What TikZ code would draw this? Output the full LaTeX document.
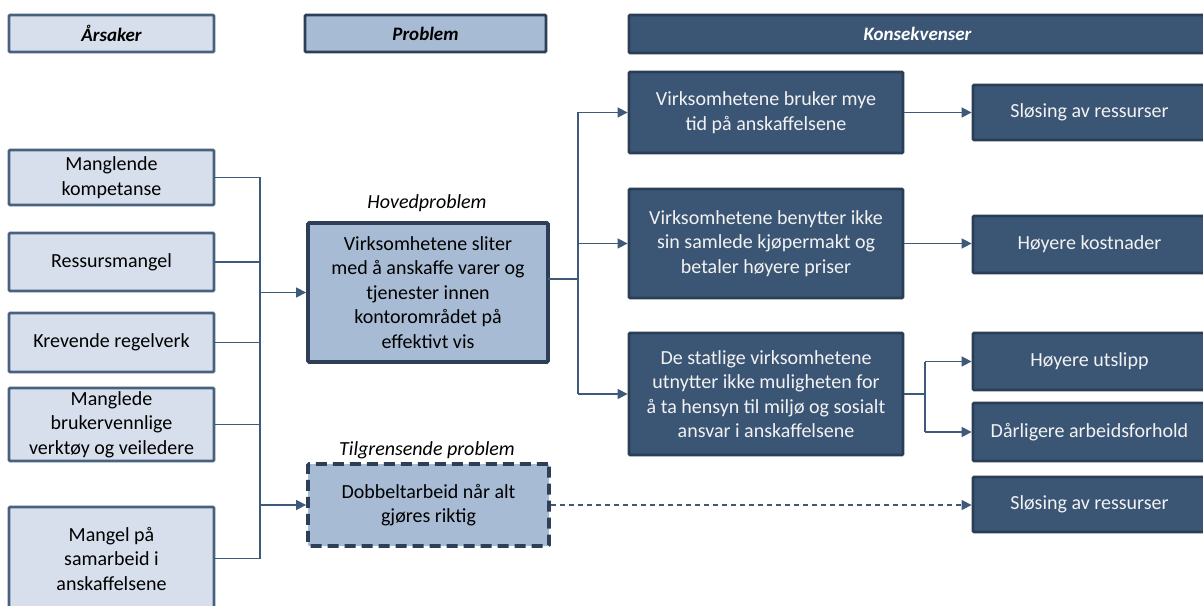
\documentclass[tikz,border=0pt]{standalone}
\usepackage{fontspec}
\setmainfont{Carlito}
\usetikzlibrary{arrows.meta}
\definecolor{lightfill}{HTML}{D6DFEB}
\definecolor{lightborder}{HTML}{47617F}
\definecolor{midfill}{HTML}{A7BCD4}
\definecolor{midborder}{HTML}{2C3F57}
\definecolor{darkfill}{HTML}{3B5675}
\definecolor{darkborder}{HTML}{2A3E56}
\definecolor{linecol}{HTML}{3E5A7B}
\definecolor{lighttext}{HTML}{F2F2F2}
\tikzset{
  x=1bp, y=-1bp,
  base/.style={rectangle, rounded corners=1.2bp, align=center, inner sep=2bp,
    font=\fontsize{20bp}{24.5bp}\selectfont},
  causebox/.style={base, fill=lightfill, draw=lightborder, line width=2.8bp},
  probbox/.style={base, fill=midfill, draw=midborder, line width=3.8bp},
  dashbox/.style={base, fill=midfill, draw=midborder, line width=3.8bp, dash pattern=on 11bp off 6bp},
  consbox/.style={base, fill=darkfill, draw=darkborder, line width=2.8bp, text=lighttext},
  hdrA/.style={causebox, font=\fontsize{19bp}{23bp}\selectfont\bfseries\itshape},
  hdrP/.style={probbox, line width=2.8bp, font=\fontsize{19bp}{23bp}\selectfont\bfseries\itshape},
  hdrK/.style={consbox, text=white, font=\fontsize{19bp}{23bp}\selectfont\bfseries\itshape},
  lbl/.style={font=\fontsize{20bp}{24.5bp}\selectfont\itshape, inner sep=0pt},
  conn/.style={draw=linecol, line width=1.5bp},
  arr/.style={conn, -{Triangle[length=10bp,width=10bp]}},
  darr/.style={arr, dash pattern=on 5bp off 4bp},
}
\begin{document}
\begin{tikzpicture}
\useasboundingbox (0,0) rectangle (1203,606);
% headers
\node[hdrA, minimum width=205bp, minimum height=37bp] (hA) at (111.5,33.5) {Årsaker};
\node[hdrP, minimum width=241bp, minimum height=37bp] (hP) at (425.5,33.5) {Problem};
\node[hdrK, minimum width=577bp, minimum height=38bp] (hK) at (917.5,34) {Konsekvenser};
% causes
\node[causebox, minimum width=205bp, minimum height=55bp] (c1) at (111.5,177.5) {Manglende\\kompetanse};
\node[causebox, minimum width=205bp, minimum height=58bp] (c2) at (111.5,262) {Ressursmangel};
\node[causebox, minimum width=205bp, minimum height=59bp] (c3) at (111.5,342.5) {Krevende regelverk};
\node[causebox, minimum width=205bp, minimum height=73bp] (c4) at (111.5,424.5) {Manglede\\brukervennlige\\verktøy og veiledere};
\node[causebox, minimum width=205bp, minimum height=103bp] (c5) at (111.5,558.5) {Mangel på\\samarbeid i\\anskaffelsene};
% problems
\node[probbox, minimum width=240bp, minimum height=139bp] (main) at (428,292.5) {Virksomhetene sliter\\med å anskaffe varer og\\tjenester innen\\kontorområdet på\\effektivt vis};
\node[lbl] (lmain) at (427,203) {Hovedproblem};
\node[dashbox, minimum width=241bp, minimum height=82bp] (side) at (428.5,505) {Dobbeltarbeid når alt\\gjøres riktig};
\node[lbl] (lside) at (427,450) {Tilgrensende problem};
% consequences
\node[consbox, minimum width=274bp, minimum height=81bp] (k1) at (766,112.5) {Virksomhetene bruker mye\\tid på anskaffelsene};
\node[consbox, minimum width=274bp, minimum height=109bp] (k2) at (766,243.5) {Virksomhetene benytter ikke\\sin samlede kjøpermakt og\\betaler høyere priser};
\node[consbox, minimum width=274bp, minimum height=122bp] (k3) at (766,394) {De statlige virksomhetene\\utnytter ikke muligheten for\\å ta hensyn til miljø og sosialt\\ansvar i anskaffelsene};
\node[consbox, minimum width=233bp, minimum height=55bp] (s1) at (1089.5,112.5) {Sløsing av ressurser};
\node[consbox, minimum width=233bp, minimum height=57bp] (s2) at (1089.5,244.5) {Høyere kostnader};
\node[consbox, minimum width=233bp, minimum height=57bp] (s3) at (1089.5,361.5) {Høyere utslipp};
\node[consbox, minimum width=233bp, minimum height=58bp] (s4) at (1089.5,432) {Dårligere arbeidsforhold};
\node[consbox, minimum width=233bp, minimum height=55bp] (s5) at (1089.5,504.5) {Sløsing av ressurser};
% trunks
\coordinate (tL) at (260,0);
\coordinate (tR) at (578,0);
\coordinate (tS) at (925,0);
\coordinate (mo) at (548,279);
% cause connectors
\foreach \c in {c1,c2,c3,c4,c5}{\draw[conn] (\c.east) -- (\c.east -| tL);}
\draw[conn] (c1.east -| tL) -- (c5.east -| tL);
\draw[arr] (main.west -| tL) -- (main.west);
\draw[arr] (side.west -| tL) -- (side.west);
% main to consequences
\draw[conn] (mo) -- (mo -| tR);
\draw[conn] (k1.west -| tR) -- (k3.west -| tR);
\draw[arr] (k1.west -| tR) -- (k1.west);
\draw[arr] (k2.west -| tR) -- (k2.west);
\draw[arr] (k3.west -| tR) -- (k3.west);
\draw[arr] (k1.east) -- (s1.west);
\draw[arr] (k2.east) -- (k2.east -| s2.west);
\draw[conn] (k3.east) -- (k3.east -| tS);
\draw[conn] (s3.west -| tS) -- (s4.west -| tS);
\draw[arr] (s3.west -| tS) -- (s3.west);
\draw[arr] (s4.west -| tS) -- (s4.west);
\draw[darr] (side.east) -- (side.east -| s5.west);
\end{tikzpicture}
\end{document}
